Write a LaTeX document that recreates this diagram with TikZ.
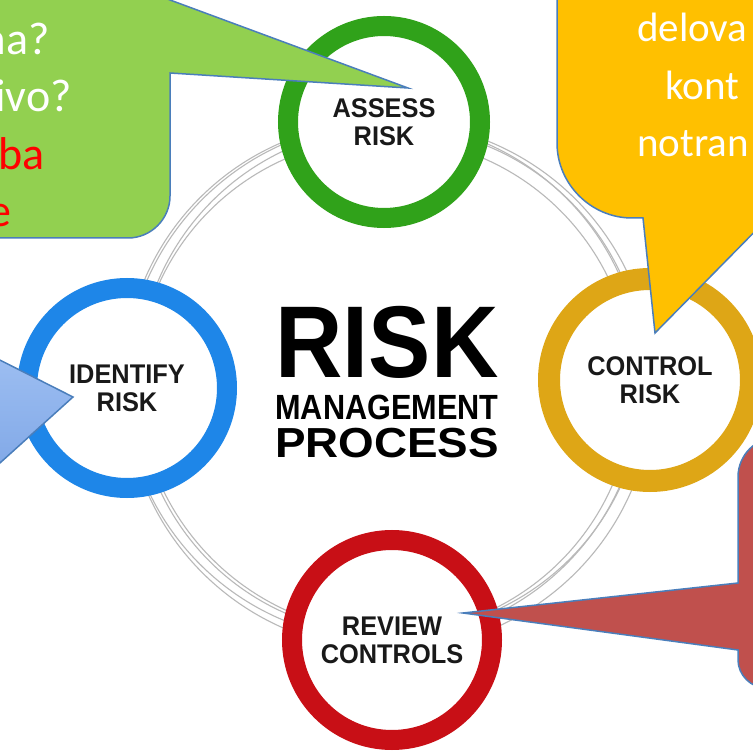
\documentclass[tikz,border=0pt]{standalone}
\usepackage{fontspec}
\newfontfamily\calibri{Carlito}
\newfontfamily\helv{Liberation Sans}
\newfontfamily\helvnarrow[FakeStretch=0.94]{Liberation Sans}
\definecolor{calgreen}{HTML}{92D050}
\definecolor{calyellow}{HTML}{FFC000}
\definecolor{calred}{HTML}{C0504D}
\definecolor{calline}{HTML}{4A7EBB}
\definecolor{assesscol}{HTML}{30A21A}
\definecolor{identcol}{HTML}{1E86E8}
\definecolor{controlcol}{HTML}{DEA616}
\definecolor{reviewcol}{HTML}{C80F16}
\begin{document}
\begin{tikzpicture}[x=1pt,y=-1pt,
  ring/.style={circle,draw=#1,line width=20pt,fill=white,minimum size=192pt,inner sep=0pt,
    align=center,text=black!90,font=\helvnarrow\bfseries\fontsize{27}{28}\selectfont},
  callout/.style={draw=calline,line width=1.5pt,line join=miter},
  bigtext/.style={anchor=base,inner sep=0pt,font=\helv\bfseries\fontsize{#1}{#1}\selectfont},
  gtext/.style={anchor=base east,inner sep=0pt,text=#1,font=\calibri\fontsize{46}{56}\selectfont},
  ytext/.style={anchor=base west,inner sep=0pt,text=white,font=\calibri\fontsize{41}{50}\selectfont}]
\useasboundingbox (0,0) rectangle (753,751);
\clip (0,0) rectangle (753,751);
\fill[white] (0,0) rectangle (753,751);

\foreach \cx/\cy/\r in {385/386/248, 391/380/253, 383/381/259, 389/386/264}
  \draw[gray!55,line width=1.1pt] (\cx,\cy) circle (\r pt);

\node[ring=assesscol] (assess) at (384,122) {ASSESS\\RISK};
\node[ring=identcol,minimum size=200pt] (identify) at (127,388) {IDENTIFY\\RISK};
\node[ring=controlcol,minimum size=202pt,line width=22pt] (control) at (650,380) {CONTROL\\RISK};
\node[ring=reviewcol,minimum size=200pt] (review) at (392,640) {REVIEW\\CONTROLS};

\node[bigtext=102] (risk) at (387,378) {\scalebox{.915}[1]{RISK}};
\node[bigtext=35] (mgmt) at (387,420) {\scalebox{.876}[1]{MANAGEMENT}};
\node[bigtext=42] (process) at (387,457) {\scalebox{1.09}[1]{PROCESS}};

\coordinate (assesstip) at (408,88);
\coordinate (identtip) at (73,397);
\coordinate (controltip) at (655,333);
\coordinate (reviewtip) at (463,613);

\draw[callout,fill=calgreen] (-20,-20) -- (116,-20) -- (assesstip) -- (170,73) -- (170,196)
  .. controls (170,219) and (151,238) .. (128,238) -- (-20,238) -- cycle;
\shadedraw[callout,top color={rgb,255:red,158;green,191;blue,242},bottom color={rgb,255:red,126;green,166;blue,230}]
  (-20,350) -- (identtip) -- (-20,481) -- cycle;
\draw[callout,fill=calyellow] (557,-20) -- (557,143) .. controls (557,184) and (591,218) .. (632,218)
  -- (643,218) -- (controltip) -- (773,213) -- (773,-20) -- cycle;
\draw[callout,fill=calred] (790,437) -- (778,437) .. controls (756,437) and (738,455) .. (738,477)
  -- (738,583) -- (reviewtip) -- (738,650) -- (738,660) .. controls (738,675) and (751,688) .. (766,688)
  -- (790,688) -- cycle;

\node[gtext=white] (g1) at (50,55) {ma?};
\node[gtext=white] (g2) at (72,112) {ivo?};
\node[gtext=red] (g3) at (45,170) {ba};
\node[gtext=red] (g4) at (12,227) {e};

\node[ytext] (y1) at (637,42) {delova};
\node[ytext] (y2) at (665,100) {kont};
\node[ytext] (y3) at (637,157) {notran};
\end{tikzpicture}
\end{document}
